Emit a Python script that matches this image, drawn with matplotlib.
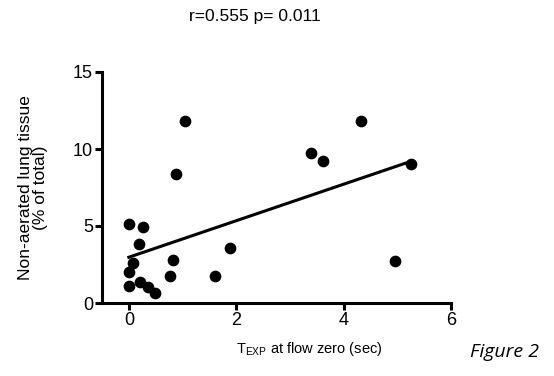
import numpy as np
import matplotlib
matplotlib.use("Agg")
import matplotlib.pyplot as plt

plt.rcParams['font.family'] = ['Liberation Sans', 'DejaVu Sans']
plt.rcParams['mathtext.fontset'] = 'custom'
plt.rcParams['mathtext.rm'] = 'Liberation Sans'
plt.rcParams['mathtext.it'] = 'Liberation Sans:italic'

t_exp = [1.04, 4.32, 3.40, 3.61, 5.25, 0.88, 0.00, 0.27, 0.19, 1.89,
         0.07, 0.82, 4.95, 0.00, 0.76, 1.60, 0.00, 0.20, 0.35, 0.49]
non_aerated = [11.8, 11.8, 9.71, 9.24, 9.0, 8.37, 5.14, 4.92, 3.86, 3.58,
               2.57, 2.78, 2.70, 1.99, 1.73, 1.77, 1.12, 1.36, 1.01, 0.65]
x_ticks = [0, 2, 4, 6]
y_ticks = [0, 5, 10, 15]
title = "r=0.555 p= 0.011"

fig = plt.figure(figsize=(5.54, 3.76), dpi=100)
ax = fig.add_axes([102/554, 1-303/376, (451-102)/554, (303-72)/376])

ax.scatter(t_exp, non_aerated, s=55, color='black', zorder=3, clip_on=False)

x = np.array(t_exp)
y = np.array(non_aerated)
slope, intercept = np.polyfit(x, y, 1)
xl = np.array([x.min(), x.max()])
ax.plot(xl, slope*xl + intercept, color='black', lw=2.2, zorder=2)

ax.set_xlim(-0.5, 6)
ax.set_ylim(0, 15)
ax.set_xticks(x_ticks)
ax.set_yticks(y_ticks)
for s in ['top', 'right']:
    ax.spines[s].set_visible(False)
for s in ['left', 'bottom']:
    ax.spines[s].set_linewidth(2.2)
ax.tick_params(direction='out', length=5, width=2.2, labelsize=13, pad=1.5)

ax.set_ylabel("Non-aerated lung tissue\n(% of total)", fontsize=12.5, linespacing=1.05)
ax.yaxis.label.set_va('center')
ax.yaxis.set_label_coords(-(102-33)/349, (303-188)/231)
ax.set_xlabel(r"T$_{\mathrm{EXP}}$ at flow zero (sec)", fontsize=10.5)
ax.xaxis.label.set_va('center')
ax.xaxis.set_label_coords((309-102)/349, -(349-303)/231)

fig.text(255/554, 1-17/376, title, ha='center', va='center', fontsize=12.5)
fig.text(505/554, 1-352/376, "Figure 2", ha='center', va='center', fontsize=14,
         family=['Open Sans', 'DejaVu Sans'], style='italic')

fig.savefig("out.png", dpi=100)
